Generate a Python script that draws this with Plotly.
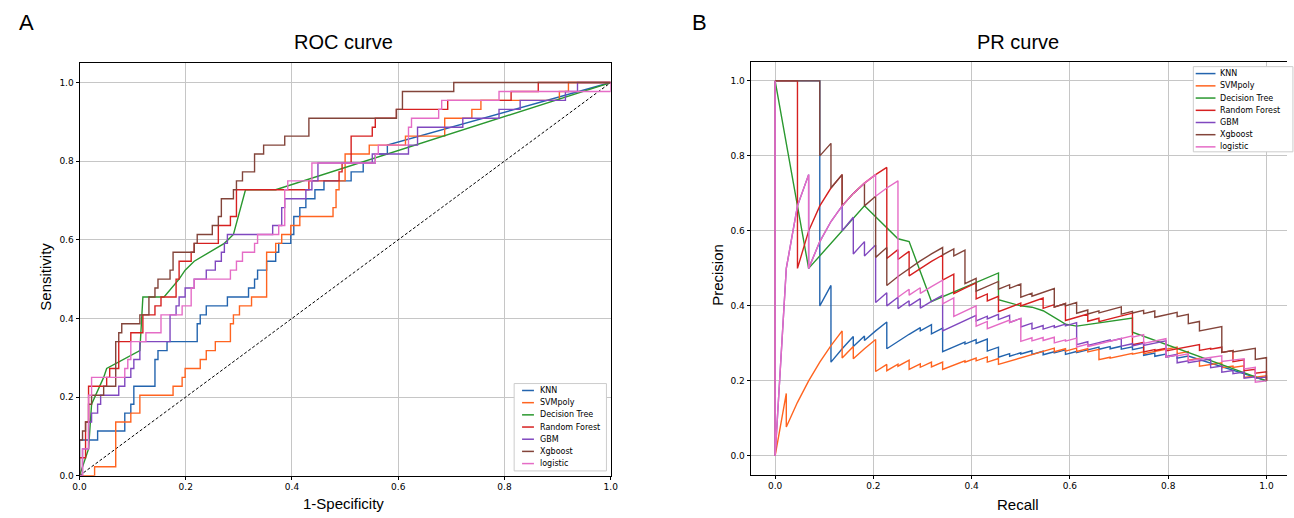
import plotly.graph_objects as go

# ---------------- data ----------------
# ROC corner points expressed as counts: false positives (of N_NEG) and true positives (of N_POS)
N_POS = 44
N_NEG = 176

MODELS = ["KNN", "SVMpoly", "Decision Tree", "Random Forest", "GBM", "Xgboost", "logistic"]
COLORS = ["#2364ae", "#ff6420", "#2a982f", "#d62020", "#8048bf", "#83443a", "#e56cc6"]

KNN_FP = [0, 0, 6, 6, 15, 15, 17, 17, 18, 18, 25, 25, 26, 26, 29, 29, 39, 39, 40, 40, 42, 42, 49, 49,
          56, 56, 58, 58, 59, 59, 62, 62, 65, 65, 66, 66, 70, 70, 71, 71, 73, 73, 75, 75, 78, 78,
          81, 81, 90, 90, 94, 94, 98, 98, 102, 102, 176]
KNN_TP = [0, 4, 4, 5, 5, 7, 7, 8, 8, 10, 10, 13, 13, 14, 14, 15, 15, 17, 17, 18, 18, 19, 19, 20,
          20, 21, 21, 22, 22, 23, 23, 24, 24, 25, 25, 26, 26, 27, 27, 29, 29, 30, 30, 31, 31, 32,
          32, 33, 33, 34, 34, 35, 35, 36, 36, 37, 44]

SVM_FP = [0, 5, 5, 12, 12, 17, 17, 20, 20, 31, 31, 34, 34, 35, 35, 40, 40, 42, 42, 45, 45, 50, 50,
          51, 51, 53, 53, 57, 57, 62, 62, 65, 65, 67, 67, 70, 70, 73, 73, 84, 84, 85, 85, 86, 86,
          88, 88, 96, 96, 108, 108, 121, 121, 130, 130, 133, 133, 159, 159, 162, 162, 176]
SVM_TP = [0, 0, 1, 1, 6, 6, 7, 7, 9, 9, 10, 10, 11, 11, 12, 12, 13, 13, 14, 14, 15, 15, 17,
          17, 18, 18, 19, 19, 20, 20, 25, 25, 26, 26, 27, 27, 28, 28, 29, 29, 30, 30, 32, 32, 33,
          33, 36, 36, 37, 37, 38, 38, 40, 40, 41, 41, 42, 42, 43, 43, 44, 44]

DT_FP = [0, 3, 4, 8, 9, 20, 21, 28, 33, 35, 38, 48, 51, 55, 65, 176]
DT_TP = [0, 3, 8, 11, 12, 14, 20, 20, 22, 23, 24, 26, 27, 32, 32, 44]

RF_FP = [0, 0, 2, 2, 3, 3, 9, 9, 10, 10, 13, 13, 17, 17, 21, 21, 25, 25, 27, 27, 32, 32, 33, 33,
         37, 37, 38, 38, 46, 46, 50, 50, 52, 52, 76, 76, 86, 86, 87, 87, 90, 90, 97, 97, 98, 98,
         105, 105, 122, 122, 143, 143, 152, 152, 176]
RF_TP = [0, 2, 2, 6, 6, 10, 10, 11, 11, 12, 12, 15, 15, 16, 16, 18, 18, 19, 19, 20, 20, 22, 22, 24,
         24, 25, 25, 26, 26, 28, 28, 29, 29, 32, 32, 33, 33, 34, 34, 35, 35, 38, 38, 39, 39, 40,
         40, 41, 41, 42, 42, 43, 43, 44, 44]

GBM_FP = [0, 1, 1, 3, 3, 4, 4, 6, 6, 7, 7, 13, 13, 15, 15, 17, 17, 18, 18, 20, 20, 30, 30, 32, 32,
          33, 33, 35, 35, 38, 38, 42, 42, 45, 45, 47, 47, 48, 48, 49, 49, 64, 64, 67, 67, 68, 68,
          75, 75, 77, 77, 79, 79, 97, 97, 109, 109, 112, 112, 127, 127, 139, 139, 146, 146, 161,
          161, 165, 165, 176]
GBM_TP = [0, 0, 3, 3, 6, 6, 7, 7, 8, 8, 9, 9, 10, 10, 11, 11, 12, 12, 13, 13, 15, 15, 18, 18, 19,
          19, 20, 20, 21, 21, 22, 22, 23, 23, 24, 24, 25, 25, 26, 26, 27, 27, 28, 28, 30, 30, 31,
          31, 32, 32, 33, 33, 35, 35, 36, 36, 37, 37, 39, 39, 40, 40, 41, 41, 42, 42, 43,
          43, 44, 44]

XGB_FP = [0, 0, 1, 1, 2, 2, 3, 3, 4, 4, 8, 8, 12, 12, 13, 13, 14, 14, 20, 20, 23, 23, 25, 25, 26,
          26, 30, 30, 31, 31, 38, 38, 39, 39, 44, 44, 46, 46, 47, 47, 51, 51, 52, 52, 54, 54, 58,
          58, 61, 61, 68, 68, 76, 76, 105, 105, 107, 107, 124, 124, 176]
XGB_TP = [0, 4, 4, 5, 5, 6, 6, 8, 8, 9, 9, 10, 10, 15, 15, 16, 16, 17, 17, 18, 18, 20, 20, 21, 21,
          22, 22, 23, 23, 25, 25, 26, 26, 27, 27, 28, 28, 29, 29, 31, 31, 32, 32, 33, 33, 34, 34,
          36, 36, 37, 37, 38, 38, 40, 40, 41, 41, 43, 43, 44, 44]

LOG_FP = [0, 1, 1, 3, 3, 4, 4, 15, 15, 16, 16, 17, 17, 22, 22, 27, 27, 34, 34, 37, 37, 38, 38, 50,
          50, 52, 52, 54, 54, 58, 58, 59, 59, 66, 66, 68, 68, 69, 69, 77, 77, 98, 98, 99, 99, 109,
          109, 110, 110, 119, 119, 120, 120, 139, 139, 176, 176]
LOG_TP = [0, 0, 3, 3, 9, 9, 11, 11, 12, 12, 13, 13, 15, 15, 16, 16, 18, 18, 19, 19, 21, 21, 22, 22,
          23, 23, 24, 24, 25, 25, 26, 26, 27, 27, 28, 28, 32, 32, 33, 33, 35, 35, 36, 36, 37, 37,
          39, 39, 40, 40, 41, 41, 42, 42, 43, 43, 44]

SERIES = [(KNN_FP, KNN_TP), (SVM_FP, SVM_TP), (DT_FP, DT_TP), (RF_FP, RF_TP),
          (GBM_FP, GBM_TP), (XGB_FP, XGB_TP), (LOG_FP, LOG_TP)]

TICKS = [0.0, 0.2, 0.4, 0.6, 0.8, 1.0]
TICK_TEXT = ["0.0", "0.2", "0.4", "0.6", "0.8", "1.0"]


def roc_xy(fp, tp):
    return [f / N_NEG for f in fp], [t / N_POS for t in tp]


def pr_xy(fp, tp):
    # every threshold between ROC corners: each single positive is its own step
    rec, prec = [0.0], [1.0]
    for i in range(1, len(fp)):
        f0, t0, f1, t1 = fp[i - 1], tp[i - 1], fp[i], tp[i]
        if f1 == f0 and t1 > t0:
            pts = [(f0, t) for t in range(t0 + 1, t1 + 1)]
        else:
            pts = [(f1, t1)]
        for f, t in pts:
            rec.append(t / N_POS)
            prec.append(t / (t + f) if (t + f) > 0 else 0.0)
    return rec, prec


W, H = 1294, 518


def px(x):
    return x / W


def py(y):
    return 1 - y / H


fig = go.Figure()

# chance line
fig.add_trace(go.Scatter(x=[0, 1], y=[0, 1], mode="lines",
                         line=dict(color="black", width=1, dash="3px,2px"),
                         xaxis="x", yaxis="y", hoverinfo="skip"))

for name, color, (fp, tp) in zip(MODELS, COLORS, SERIES):
    x, y = roc_xy(fp, tp)
    fig.add_trace(go.Scatter(x=x, y=y, mode="lines", name=name,
                             line=dict(color=color, width=1.4),
                             xaxis="x", yaxis="y"))

for name, color, (fp, tp) in zip(MODELS, COLORS, SERIES):
    r, p = pr_xy(fp, tp)
    fig.add_trace(go.Scatter(x=r, y=p, mode="lines", name=name,
                             line=dict(color=color, width=1.4),
                             xaxis="x2", yaxis="y2"))

axis_common = dict(tickvals=TICKS, ticktext=TICK_TEXT, showgrid=True, gridcolor="#c6c6c6",
                   gridwidth=1, zeroline=False, showline=True, linecolor="black", linewidth=1,
                   ticks="outside", ticklen=3, tickcolor="black",
                   tickfont=dict(family="DejaVu Sans", size=9, color="black"))

fig.update_layout(
    width=W, height=H, margin=dict(l=0, r=0, t=0, b=0),
    paper_bgcolor="white", plot_bgcolor="white", showlegend=False,
    xaxis=dict(domain=[px(73.3), px(610.3)], range=[0, 1], mirror=True, anchor="y", **axis_common),
    yaxis=dict(domain=[py(480.3), py(63.5)], range=[0, 1.05], mirror=True, anchor="x", **axis_common),
    xaxis2=dict(domain=[px(751.7), 1.0], range=[-0.05, -0.05 + (W - 751.7) / 496.7], mirror=True,
                anchor="y2", **axis_common),
    yaxis2=dict(domain=[py(479.3), py(62.7)], range=[-0.05, 1.05], mirror=False, anchor="x2",
                **axis_common),
)

shapes = []
annotations = []


def text(x, y, s, size, family="Liberation Sans", xanchor="center", angle=0):
    annotations.append(dict(x=px(x), y=py(y), xref="paper", yref="paper", text=s, showarrow=False,
                            xanchor=xanchor, yanchor="middle", textangle=angle,
                            font=dict(family=family, size=size, color="black")))


text(19.6, 23, "A", 22)
text(700, 23, "B", 22)
text(340, 42.5, "ROC curve", 20)
text(1022, 42.5, "PR curve", 20)
text(340, 508, "1-Specificity", 15)
text(1022, 509, "Recall", 15)
text(38.8, 279, "Sensitivity", 15, angle=-90)
text(718.3, 278, "Precision", 15, angle=-90)


def legend(box, line_x0, line_x1, text_x, rows):
    x0, y0, x1, y1 = box
    shapes.append(dict(type="rect", xref="paper", yref="paper", x0=px(x0), x1=px(x1),
                       y0=py(y1), y1=py(y0), fillcolor="white",
                       line=dict(color="#cccccc", width=1), layer="above"))
    for name, color, ry in zip(MODELS, COLORS, rows):
        shapes.append(dict(type="line", xref="paper", yref="paper", x0=px(line_x0), x1=px(line_x1),
                           y0=py(ry), y1=py(ry), line=dict(color=color, width=1.5), layer="above"))
        text(text_x, ry, name, 8, family="DejaVu Sans", xanchor="left")


legend((512.7, 387.3, 606.0, 475.5), 520.7, 532.7, 537.0,
       [394.3, 406.6, 418.9, 431.2, 443.5, 455.8, 468.1])
legend((1199.3, 67.3, 1300.0, 153.3), 1201.7, 1221.7, 1224.0,
       [74.3, 86.7, 99.0, 111.4, 123.7, 136.0, 148.3])

fig.update_layout(shapes=shapes, annotations=annotations)

fig.write_html("out.html", config={"displayModeBar": False},
               post_script="document.body.style.margin='0px';")
